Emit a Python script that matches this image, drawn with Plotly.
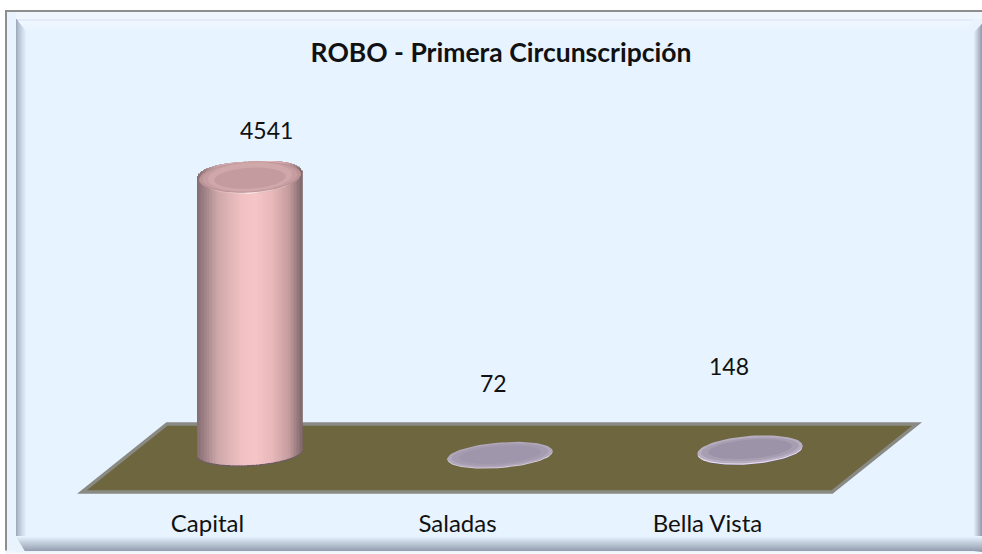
import numpy as np
import plotly.graph_objects as go

categories = ["Capital", "Saladas", "Bella Vista"]
values = [4541, 72, 148]
title_text = "ROBO - Primera Circunscripción"

W, H = 982, 554
PX_PER_UNIT = 274 / 4541
AXIS_BOTTOM_PX = 507
CAT_STEP_PX = 250
FONT = "Lato"
TEXT = "#111111"

# pixel <-> data helpers (x axis spans the full width, y axis ends at AXIS_BOTTOM_PX)
REF_BASE_PX = 452
x_range = [-1, (W - CAT_STEP_PX) / CAT_STEP_PX]
y_range = [-(AXIS_BOTTOM_PX - REF_BASE_PX) / PX_PER_UNIT, REF_BASE_PX / PX_PER_UNIT]
dpx = lambda p: p / CAT_STEP_PX      # px -> x units
dpy = lambda p: p / PX_PER_UNIT      # px -> y units


def mix(a, b, t):
    a = np.array(a, float)
    b = np.array(b, float)
    c = a + (b - a) * t
    return "rgb(%d,%d,%d)" % tuple(np.round(c))


def ramp(stops, t):
    ts = [s[0] for s in stops]
    i = int(np.clip(np.searchsorted(ts, t) - 1, 0, len(stops) - 2))
    return mix(stops[i][1], stops[i + 1][1], (t - ts[i]) / (ts[i + 1] - ts[i]))


fig = go.Figure()

# ---------- frame ----------
shapes = []


def rect(x0, y0, x1, y1, color, layer="below"):
    shapes.append(dict(type="rect", xref="paper", yref="paper", layer=layer,
                       x0=x0 / W, x1=x1 / W, y0=1 - y0 / H, y1=1 - y1 / H,
                       fillcolor=color, line=dict(width=0)))


PANEL = (231, 243, 255)
rect(0, 0, W, H, "#ffffff")
rect(5, 10, W, H, "#e9f3fd")
rect(5, 10, 7, 552, "#8e8e8e")          # outer left
rect(5, 10, W, 12, "#8e8e8e")           # outer top
rect(5, 552, W, 554, "#f4f8fc")
rect(7, 12, W, 19, "#f0f6fd")
rect(16, 19, 973, 536, mix(PANEL, PANEL, 0))
for i in range(14):                     # top bevel
    rect(16 + i, 19 + i, 973 - i * 0.6, 20 + i, mix((226, 236, 248) if i < 2 else (240, 247, 254), PANEL, i / 13))
for i in range(11):                     # left bevel
    rect(16 + i, 19 + i * 1.3, 17 + i, 536, mix((160, 172, 190), PANEL, (i / 10) ** 0.8))
for i in range(9):                      # right bevel
    rect(973 + i, 33 - i * 1.1, 974 + i, 552, mix(PANEL, (150, 160, 178), i / 8))
for i in range(15):                     # bottom bevel
    rect(16 + i * 0.6, 536 + i, 982, 537 + i, mix(PANEL, (150, 160, 178), i / 14))
rect(5, 550.5, 16, 552, "#f0f6fd")
rect(7, 12, 16, 550, "#e9f3fd")

# ---------- floor ----------
floor_x = [167, 917, 832, 82]
floor_y = [424, 424, 492, 492]
shapes.append(dict(
    type="path", xref="paper", yref="paper", layer="below",
    path="M " + " L ".join(f"{x / W},{1 - y / H}" for x, y in zip(floor_x, floor_y)) + " Z",
    fillcolor="#6e663f", line=dict(color="#8a8a84", width=3.5)))

# ---------- marks ----------
A = 52.5                    # half width of a column, px
BASE_OFFSET = [0, 8, 8]     # how far each foot sits below the reference, px


def ellipse(xc, yc, a, b, shear, n=90):
    t = np.linspace(0, 2 * np.pi, n)
    return (xc + dpx(a) * np.cos(t),
            yc + dpy(shear * a * np.cos(t)) + dpy(b) * np.sin(t))


def fill(xs, ys, color):
    fig.add_trace(go.Scatter(x=xs, y=ys, mode="lines", fill="toself", fillcolor=color,
                             line=dict(width=0), hoverinfo="skip", showlegend=False))


BODY = [(0.0, (130, 108, 112)), (0.07, (158, 128, 132)), (0.2, (206, 168, 170)),
        (0.42, (240, 192, 194)), (0.55, (246, 197, 199)), (0.72, (232, 184, 186)),
        (0.88, (196, 156, 158)), (1.0, (128, 104, 106))]

# Column: strips of a bar trace, foot curved, head a rounded dome
v = values[0]
SHEAR = 0.055
FOOT_B = 13.0
HEAD_B = 16.5
N = 70
edges = np.linspace(-1, 1, N + 1)
mid = (edges[:-1] + edges[1:]) / 2
foot = -dpy(FOOT_B) * np.sqrt(1 - mid ** 2) + dpy(SHEAR * A * mid)
head = v + dpy(HEAD_B) * (1 - np.abs(mid) ** 2.6) ** (1 / 2.6) + dpy(SHEAR * A * mid)
strip_w = dpx(2 * A / N) * 1.05
strip_x = mid * dpx(A)
fig.add_trace(go.Bar(x=strip_x, y=head - foot + dpy(1.2), base=foot - dpy(1.2), width=strip_w,
                     marker=dict(color="#6d5c66", line=dict(width=0)),
                     hoverinfo="skip", showlegend=False))
fig.add_trace(go.Bar(
    x=strip_x, y=head - foot, base=foot, width=strip_w,
    marker=dict(color=[ramp(BODY, (m + 1) / 2) for m in mid], line=dict(width=0)),
    hoverinfo="skip", showlegend=False))

# head: nested caps, a light crescent in front and a dusky face on top
CAPS = [(0.88, 15.4, -0.6, (226, 186, 188)),
        (0.72, 15.4, -0.7, (238, 206, 206)),
        (0.38, 15.2, -0.8, (250, 226, 226)),
        (0.97, 15.4, 1.0, (186, 148, 151)),
        (0.90, 15.0, 1.1, (198, 158, 161)),
        (0.80, 14.4, 1.2, (208, 168, 170)),
        (0.68, 10.5, -0.2, (196, 155, 158))]
for a_f, b, up, col in CAPS:
    xs, ys = ellipse(0, v + dpy(up), A * a_f, b, SHEAR)
    fill(xs, ys, "rgb(%d,%d,%d)" % col)

# Flat discs for the small values
DISC_SHADES = [
    [(1.0, 12.4, 0, (222, 212, 230)), (1.0, 12.4, 0.8, (178, 168, 188)), (0.92, 10.8, 1.0, (166, 156, 176)),
     (0.78, 8.8, 1.0, (160, 150, 172))],
    [(1.0, 13.6, 0, (96, 84, 110)), (1.0, 13.6, 0.4, (232, 222, 238)), (1.0, 13.6, 1.6, (184, 174, 194)),
     (0.93, 11.5, 1.8, (168, 158, 178)), (0.8, 9.5, 2.0, (157, 147, 168))],
]
for k in (1, 2):
    base = -dpy(BASE_OFFSET[k])
    for a_f, b, up, col in DISC_SHADES[k - 1]:
        xs, ys = ellipse(k, base + values[k] + dpy(up), A * a_f, b, 0.075)
        fill(xs, ys, "rgb(%d,%d,%d)" % col)

# ---------- text ----------
LABEL_SHIFT = [-0.17, -0.17, -0.17]
VALUE_DX = [16, -6.5, -21]
VALUE_Y = [130, 383, 366]
ann = []
for k, (val, dx) in enumerate(zip(values, VALUE_DX)):
    ann.append(dict(x=k + dpx(dx), y=(REF_BASE_PX - VALUE_Y[k]) / PX_PER_UNIT, text=str(val),
                    showarrow=False, xanchor="center", yanchor="middle",
                    font=dict(family=FONT, size=23, color=TEXT)))

fig.update_layout(
    width=W, height=H, margin=dict(l=0, r=0, t=0, b=0),
    paper_bgcolor="#ffffff", plot_bgcolor="rgba(0,0,0,0)",
    barmode="overlay", showlegend=False, shapes=shapes, annotations=ann,
    title=dict(text=f"<b>{title_text}</b>", x=501 / W, xanchor="center", y=1 - 53 / H,
               yanchor="middle", font=dict(family=FONT, size=26.5, color=TEXT)),
    xaxis=dict(range=x_range, tickmode="array",
               tickvals=[k + s for k, s in enumerate(LABEL_SHIFT)], ticktext=categories,
               showgrid=False, zeroline=False, showline=False, ticks="", ticklen=0,
               tickfont=dict(family=FONT, size=24, color=TEXT)),
    yaxis=dict(range=y_range, domain=[1 - AXIS_BOTTOM_PX / H, 1], visible=False,
               showgrid=False, zeroline=False),
)

fig.write_html("out.html", config={"displayModeBar": False},
               post_script="document.body.style.margin='0';document.documentElement.style.overflow='hidden';")
